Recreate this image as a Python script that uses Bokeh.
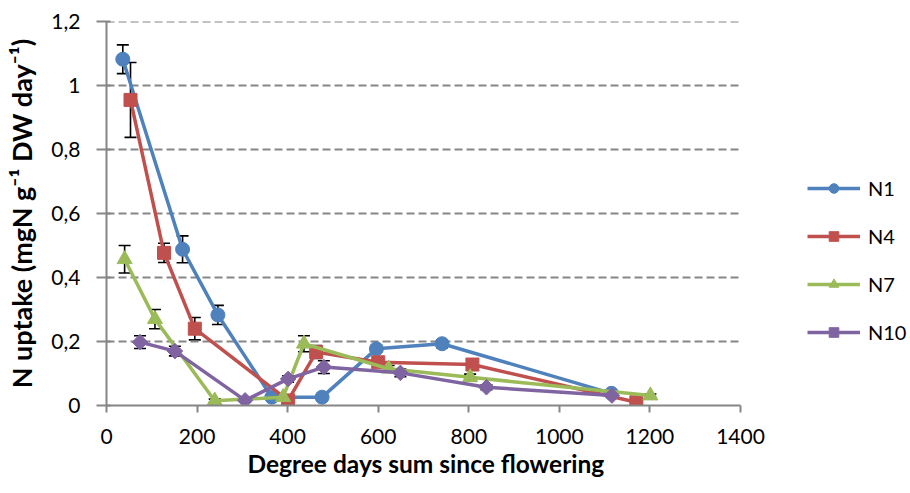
import math
from bokeh.plotting import figure
from bokeh.models import (ColumnDataSource, Whisker, TeeHead, FixedTicker, Legend,
                          LegendItem, Range1d, Title, LinearAxis)
from bokeh.embed import file_html
from bokeh.resources import INLINE

# ---- data ----
series_names = ["N1", "N4", "N7", "N10"]
n1_x = [36, 168, 246, 365, 476, 596, 741, 1115]
n1_y = [1.082, 0.488, 0.283, 0.026, 0.026, 0.177, 0.193, 0.038]
n1_err = [0.045, 0.042, 0.03, 0.005, 0.008, 0.01, 0.012, 0.005]

n4_x = [53, 127, 195, 401, 463, 600, 808, 1170]
n4_y = [0.955, 0.477, 0.24, 0.016, 0.167, 0.135, 0.128, 0.01]
n4_err = [0.117, 0.03, 0.035, 0.005, 0.02, 0.01, 0.01, 0.003]

n7_x = [40, 107, 239, 390, 436, 623, 803, 1201]
n7_y = [0.457, 0.27, 0.015, 0.026, 0.193, 0.115, 0.088, 0.031]
n7_err = [0.043, 0.03, 0.005, 0.005, 0.025, 0.01, 0.01, 0.005]

n10_x = [74, 151, 306, 401, 480, 649, 839, 1116]
n10_y = [0.198, 0.17, 0.016, 0.083, 0.12, 0.102, 0.057, 0.031]
n10_err = [0.02, 0.015, 0.005, 0.01, 0.02, 0.012, 0.008, 0.005]

x_ticks = [0, 200, 400, 600, 800, 1000, 1200, 1400]
y_ticks = [0, 0.2, 0.4, 0.6, 0.8, 1.0, 1.2]
y_tick_labels = ["0", "0,2", "0,4", "0,6", "0,8", "1", "1,2"]
x_title = "Degree days sum since flowering"
y_title = "N uptake (mgN g\u207b\u00b9 DW day\u207b\u00b9)"

colors = ["#4F81BD", "#C0504D", "#9BBB59", "#8064A2"]
markers = ["circle", "square", "triangle", "square"]
marker_angles = [0, 0, 0, math.pi / 4]
marker_sizes = [14, 13, 15, 11]

FONT = "Lato"

# layout: the axis spans 106..740 px; the frame continues to the right edge
# so that the legend (right of the axis) can live inside it.
W, H = 910, 493
LEFT, AXIS_RIGHT = 106, 740
x_end = x_ticks[-1] * (W - LEFT) / (AXIS_RIGHT - LEFT)

p = figure(width=W, height=H, output_backend="svg", toolbar_location=None,
           x_range=Range1d(0, x_end), y_range=Range1d(y_ticks[0], y_ticks[-1]),
           min_border_left=LEFT, min_border_right=0, min_border_top=21,
           min_border_bottom=88)
p.outline_line_color = None
p.background_fill_color = "white"
p.border_fill_color = "white"

# axes
for ax in (p.xaxis[0], p.yaxis[0]):
    ax.axis_line_color = "#868686"
    ax.axis_line_width = 2
    ax.major_tick_line_color = "#868686"
    ax.major_tick_line_width = 2
    ax.minor_tick_line_color = None
    ax.major_label_text_font = FONT
    ax.major_label_text_font_size = "21px"
    ax.major_label_text_color = "black"
    ax.axis_label_text_font = FONT
    ax.axis_label_text_font_style = "bold"
    ax.axis_label_text_color = "black"

p.xaxis.ticker = FixedTicker(ticks=x_ticks)
p.xaxis.bounds = (x_ticks[0], x_ticks[-1])
p.xaxis.major_tick_out = 7
p.xaxis.major_tick_in = 0
p.xaxis.major_label_standoff = 16

# invisible, tick-less axis used only as vertical room above the x title
spacer = LinearAxis(ticker=FixedTicker(ticks=[]), axis_line_color=None,
                    major_tick_line_color=None, minor_tick_line_color=None,
                    major_tick_out=12, major_tick_in=0, major_label_standoff=0)
p.add_layout(spacer, "below")

# x title centred under the axis extent (not the whole frame)
xt = Title(text=x_title, align="left", offset=141, standoff=0,
           text_font=FONT, text_font_style="bold", text_font_size="24.5px",
           text_color="black")
p.add_layout(xt, "below")

p.yaxis.ticker = FixedTicker(ticks=y_ticks)
p.yaxis.major_label_overrides = {t: l for t, l in zip(y_ticks, y_tick_labels)}
p.yaxis.major_tick_out = 10
p.yaxis.major_tick_in = 4
p.yaxis.major_label_standoff = 16
p.yaxis.axis_label = y_title
p.yaxis.axis_label_text_font_size = "27px"
p.yaxis.axis_label_standoff = 10

# dashed horizontal grid lines, only across the axis extent
p.xgrid.grid_line_color = None
p.ygrid.grid_line_color = None
grid_src = ColumnDataSource(dict(x0=[x_ticks[0]] * (len(y_ticks) - 1),
                                 x1=[x_ticks[-1]] * (len(y_ticks) - 1),
                                 y=y_ticks[1:]))
p.segment(x0="x0", y0="y", x1="x1", y1="y", source=grid_src,
          line_color="#868686", line_width=1.8, line_dash="8 4")

all_x = [n1_x, n4_x, n7_x, n10_x]
all_y = [n1_y, n4_y, n7_y, n10_y]
all_e = [n1_err, n4_err, n7_err, n10_err]

items = []
for name, xs, ys, es, c, m, a, s in zip(series_names, all_x, all_y, all_e, colors,
                                        markers, marker_angles, marker_sizes):
    src = ColumnDataSource(dict(x=xs, y=ys,
                                upper=[u + e for u, e in zip(ys, es)],
                                lower=[u - e for u, e in zip(ys, es)]))
    lr = p.line("x", "y", source=src, line_color=c, line_width=3.5)
    w = Whisker(base="x", upper="upper", lower="lower", source=src,
                line_color="black", line_width=1.6,
                upper_head=TeeHead(size=12, line_color="black", line_width=1.6),
                lower_head=TeeHead(size=12, line_color="black", line_width=1.6))
    p.add_layout(w)
    sr = p.scatter("x", "y", source=src, marker=m, size=s, angle=a,
                   fill_color=c, line_color=c, line_width=1)
    items.append(LegendItem(label=name, renderers=[lr, sr]))

legend = Legend(items=items, location=(701, 61), orientation="vertical",
                glyph_width=53, glyph_height=24, label_height=24, spacing=24,
                label_standoff=8, padding=0, margin=0,
                border_line_color=None, background_fill_alpha=0,
                label_text_font=FONT, label_text_font_size="20px",
                label_text_color="black")
p.add_layout(legend, "center")

open("out.html", "w").write(file_html(p, INLINE))
